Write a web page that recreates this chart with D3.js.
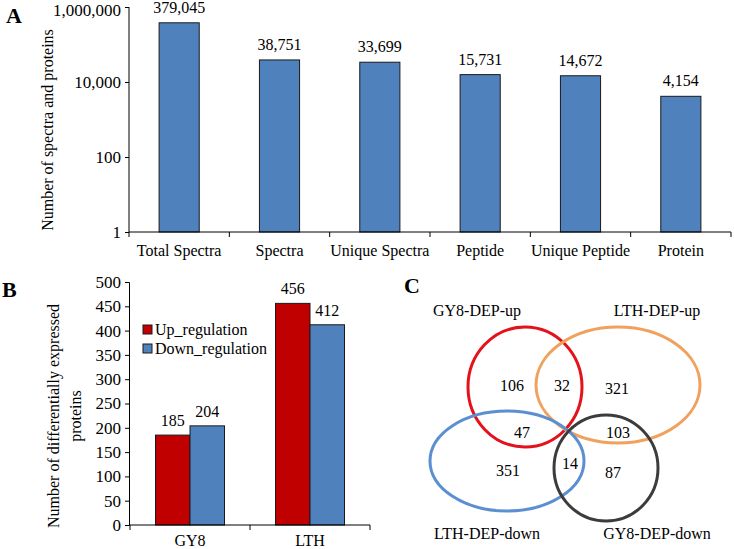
<!DOCTYPE html>
<html><head><meta charset="utf-8">
<script src="https://cdn.jsdelivr.net/npm/d3@7"></script>
<style>body{margin:0;background:#fff}</style>
</head><body>
<svg id="c" width="734" height="549"></svg>
<script>
// Panel A data
const catsA = ["Total Spectra","Spectra","Unique Spectra","Peptide","Unique Peptide","Protein"];
const valsA = [379045, 38751, 33699, 15731, 14672, 4154];
const ticksA = [1, 100, 10000, 1000000];
// Panel B data
const groupsB = ["GY8","LTH"];
const seriesB = ["Up_regulation","Down_regulation"];
const upB = [185, 456];
const downB = [204, 412];
const ticksB = [0,50,100,150,200,250,300,350,400,450,500];
// Panel C data
const vennSets = ["GY8-DEP-up","LTH-DEP-up","LTH-DEP-down","GY8-DEP-down"];
const vennCounts = [106, 32, 321, 47, 103, 351, 14, 87];

const FONT = "'Liberation Serif', Tinos, 'Times New Roman', serif";
const svg = d3.select("#c");
const fmt = d3.format(",");
const blue = "#4f81bd", red = "#c00000";
function tf(sel, size, bold){ return sel.style("font-family", FONT).style("font-size", size+"px").style("font-weight", bold?"bold":"normal").attr("fill","#000"); }

// ---------- Panel A ----------
const xA = d3.scaleBand().domain(catsA).range([129, 731]).paddingInner(0.6).paddingOuter(0.3);
const yA = d3.scaleLog().domain([1, 1e6]).range([232, 7]);
const gA = svg.append("g");
gA.selectAll("rect").data(valsA).join("rect")
  .attr("x", (d,i)=>xA(catsA[i])).attr("width", xA.bandwidth())
  .attr("y", d=>yA(d)).attr("height", d=>yA(1)-yA(d))
  .attr("fill", blue).attr("stroke", "#1a1a1a").attr("stroke-width", 1);
tf(gA.selectAll("text.v").data(valsA).join("text").attr("class","v")
  .attr("x", (d,i)=>xA(catsA[i])+xA.bandwidth()/2).attr("y", d=>Math.max(yA(d)-10, 12))
  .attr("text-anchor","middle").text(d=>fmt(d)), 16);
const axA = gA.append("g").attr("transform","translate(129,0)")
  .call(d3.axisLeft(yA).tickValues(ticksA).tickFormat(fmt).tickSize(4).tickPadding(4));
axA.select(".domain").attr("d","M0,7V232");
tf(axA.selectAll("text"), 17);
axA.selectAll(".tick").filter(d=>d===1e6).select("text").attr("dy","0.5em");
// x axis
gA.append("line").attr("x1",129).attr("x2",731).attr("y1",232).attr("y2",232).attr("stroke","#000");
const bA = catsA.map(c=>xA(c)-xA.step()*xA.paddingInner()/2).concat([731]);
gA.selectAll("line.t").data(bA).join("line").attr("class","t")
  .attr("x1",d=>d).attr("x2",d=>d).attr("y1",232).attr("y2",237).attr("stroke","#000");
tf(gA.selectAll("text.c").data(catsA).join("text").attr("class","c")
  .attr("x", d=>xA(d)+xA.bandwidth()/2).attr("y",256)
  .attr("text-anchor","middle").text(d=>d), 16);
tf(gA.append("text").attr("transform","translate(53,130) rotate(-90)")
  .attr("text-anchor","middle").text("Number of spectra and proteins"), 16);
tf(svg.append("text").attr("x",6).attr("y",23).text("A"), 22, true);

// ---------- Panel B ----------
const xB = d3.scaleBand().domain(groupsB).range([130, 370]).paddingInner(0.425).paddingOuter(0.2125);
const xB1 = d3.scaleBand().domain(seriesB).range([0, xB.bandwidth()]);
const yB = d3.scaleLinear().domain([0, 500]).range([525, 282]);
const gB = svg.append("g");
const barsB = [];
groupsB.forEach((g,i)=>{ barsB.push({g, s:seriesB[0], v:upB[i], c:red}); barsB.push({g, s:seriesB[1], v:downB[i], c:blue}); });
gB.selectAll("rect").data(barsB).join("rect")
  .attr("x", d=>xB(d.g)+xB1(d.s)).attr("width", xB1.bandwidth())
  .attr("y", d=>yB(d.v)).attr("height", d=>yB(0)-yB(d.v))
  .attr("fill", d=>d.c).attr("stroke","#1a1a1a").attr("stroke-width",1);
tf(gB.selectAll("text.v").data(barsB).join("text").attr("class","v")
  .attr("x", d=>xB(d.g)+xB1(d.s)+xB1.bandwidth()/2).attr("y", d=>yB(d.v)-9)
  .attr("text-anchor","middle").text(d=>d.v), 16);
const axB = gB.append("g").attr("transform","translate(129,0)")
  .call(d3.axisLeft(yB).tickValues(ticksB).tickSize(4).tickPadding(4));
tf(axB.selectAll("text"), 17);
gB.append("line").attr("x1",129).attr("x2",370).attr("y1",525).attr("y2",525).attr("stroke","#000");
const bB = groupsB.map(g=>xB(g)-xB.step()*xB.paddingInner()/2).concat([370]);
gB.selectAll("line.t").data(bB).join("line").attr("class","t")
  .attr("x1",d=>d).attr("x2",d=>d).attr("y1",525).attr("y2",530).attr("stroke","#000");
tf(gB.selectAll("text.c").data(groupsB).join("text").attr("class","c")
  .attr("x", d=>xB(d)+xB.bandwidth()/2).attr("y",546)
  .attr("text-anchor","middle").text(d=>d), 16);
tf(gB.append("text").attr("transform","translate(59,416) rotate(-90)")
  .attr("text-anchor","middle").text("Number of differentially expressed"), 16);
tf(gB.append("text").attr("transform","translate(81,416) rotate(-90)")
  .attr("text-anchor","middle").text("proteins"), 16);
const leg = gB.selectAll("g.l").data(seriesB).join("g").attr("class","l")
  .attr("transform",(d,i)=>`translate(143,${325+i*19})`);
leg.append("rect").attr("width",9).attr("height",9).attr("fill",(d,i)=>i?blue:red).attr("stroke","#1a1a1a");
tf(leg.append("text").attr("x",12).attr("y",9.5).text(d=>d), 16);
tf(svg.append("text").attr("x",2).attr("y",297).text("B"), 22, true);

// ---------- Panel C ----------
const gC = svg.append("g");
const ells = [
  {cx:525, cy:387, rx:57, ry:60, c:"#e3121b"},
  {cx:618, cy:385, rx:82, ry:58, c:"#f0a15c"},
  {cx:507, cy:461, rx:77, ry:50, c:"#5b8fd2"},
  {cx:606, cy:468, rx:52, ry:53, c:"#3c3c3c"}
];
gC.selectAll("ellipse").data(ells).join("ellipse")
  .attr("cx",d=>d.cx).attr("cy",d=>d.cy).attr("rx",d=>d.rx).attr("ry",d=>d.ry)
  .attr("fill","none").attr("stroke",d=>d.c).attr("stroke-width",3);
const setPos = [[477,316],[657,316],[487,539],[657,539]];
tf(gC.selectAll("text.s").data(vennSets).join("text").attr("class","s")
  .attr("x",(d,i)=>setPos[i][0]).attr("y",(d,i)=>setPos[i][1])
  .attr("text-anchor","middle").text(d=>d), 16);
const numPos = [[512,391],[562,391],[617,394],[522,438],[618,438],[508,476],[570,469],[613,478]];
tf(gC.selectAll("text.n").data(vennCounts).join("text").attr("class","n")
  .attr("x",(d,i)=>numPos[i][0]).attr("y",(d,i)=>numPos[i][1])
  .attr("text-anchor","middle").text(d=>d), 16);
tf(svg.append("text").attr("x",404).attr("y",293).text("C"), 22, true);
</script>
</body></html>
